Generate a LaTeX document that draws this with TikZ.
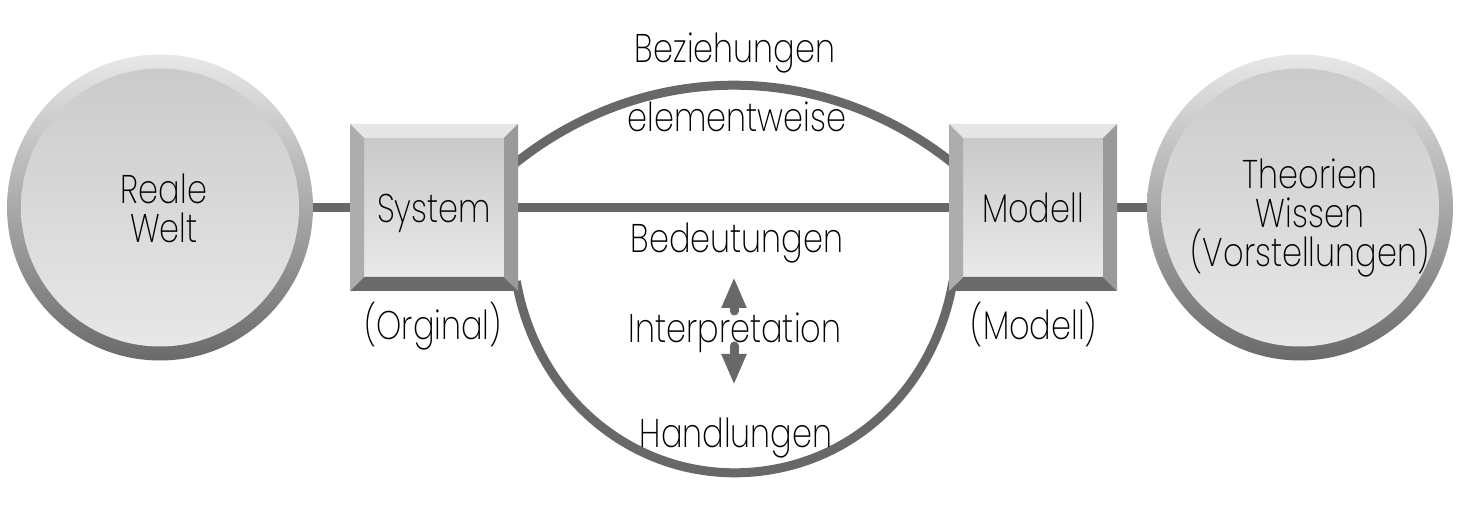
\documentclass[tikz,border=0pt]{standalone}
\usepackage{fontspec}
\setmainfont{Poppins}[UprightFont={* ExtraLight},FakeStretch=0.8]
\usetikzlibrary{arrows.meta}
\pgfdeclarelayer{bg}
\pgfdeclarelayer{boxes}
\pgfsetlayers{bg,boxes,main}
\definecolor{linegray}{HTML}{686868}
\definecolor{ringtop}{HTML}{E8E8E8}
\definecolor{ringbot}{HTML}{6A6A6A}
\definecolor{facetop}{HTML}{C9C9C9}
\definecolor{facebot}{HTML}{E9E9E9}
\definecolor{bevtop}{HTML}{E6E6E6}
\definecolor{bevleft}{HTML}{ADADAD}
\definecolor{bevright}{HTML}{9A9A9A}
\definecolor{bevbot}{HTML}{6A6A6A}
\newcommand{\drawbevel}[1]{%
  \begin{pgfonlayer}{boxes}
  \begin{scope}[shift={(#1.south west)}]
    \shade[top color=facetop,bottom color=facebot] (14,14) rectangle (154,153);
    \fill[bevtop] (0,167)--(168,167)--(154,153)--(14,153)--cycle;
    \fill[bevbot] (0,0)--(168,0)--(154,14)--(14,14)--cycle;
    \fill[bevleft] (0,0)--(14,14)--(14,153)--(0,167)--cycle;
    \fill[bevright] (168,0)--(154,14)--(154,153)--(168,167)--cycle;
  \end{scope}
  \end{pgfonlayer}}
\begin{document}
\begin{tikzpicture}[x=1pt,y=1pt,
  conn/.style={draw=linegray,line width=9pt},
  txt/.style={font=\fontsize{40}{39}\selectfont,inner sep=0pt,align=center},
  world/.style={circle,minimum size=306pt,inner sep=0pt,top color=ringtop,bottom color=ringbot,
    path picture={\shade[top color=facetop,bottom color=facebot] (path picture bounding box.center) circle[radius=139pt];}},
  bevelbox/.style={rectangle,minimum width=168pt,minimum height=167pt,inner sep=0pt,outer sep=0pt,
    font=\fontsize{40}{39}\selectfont,text height=30pt,text depth=0pt},
  arr/.style={draw=linegray,line width=9pt,line cap=round,-{Triangle[width=23pt,length=31pt]}}
]
\useasboundingbox (0,0) rectangle (1476,530);
% main shapes
\node[world] (rw) at (160,322.5) {};
\node[bevelbox] (sys) at (434,322.5) {System};
\drawbevel{sys}
\node[bevelbox] (mod) at (1033,322.5) {Modell};
\drawbevel{mod}
\node[world] (tw) at (1300,322.5) {};
% texts
\node[txt] (rwt) at (164,322) {Reale\\Welt};
\node[txt] (twt) at (1310,312) {Theorien\\Wissen\\(Vorstellungen)};
\node[txt,anchor=base] (orig) at (433,190) {(Orginal)};
\node[txt,anchor=base] (modl) at (1034,190) {(Modell)};
\node[txt,anchor=base] (bez) at (735,467) {Beziehungen};
\node[txt,anchor=base] (elem) at (737,398) {elementweise};
\node[txt,anchor=base] (bed) at (737,277) {Bedeutungen};
\node[txt,anchor=base] (int) at (735,187) {Interpretation};
\node[txt,anchor=base] (hand) at (736,82) {Handlungen};
% connectors behind the shapes
\begin{pgfonlayer}{bg}
  \fill[white] (0,0) rectangle (1476,530);
  \draw[conn,shorten <=-4pt,shorten >=-4pt] (rw) -- (sys);
  \draw[conn,shorten <=-4pt,shorten >=-4pt] (sys) -- (mod);
  \draw[conn,shorten <=-4pt,shorten >=-4pt] (mod) -- (tw);
  \draw[conn,shorten <=-8pt,shorten >=-8pt] (sys.29.5) arc[start angle=129.24,end angle=50.76,radius=341.5];
  \draw[conn,shorten <=-10pt,shorten >=-10pt] (sys.south east) arc[start angle=190,end angle=350,radius=220];
\end{pgfonlayer}
% interpretation arrows
\coordinate (a1) at (734,219);
\coordinate (a1t) at (734,253);
\coordinate (a2) at (734,184);
\coordinate (a2t) at (734,145);
\draw[arr] (a1) -- (a1t);
\draw[arr] (a2) -- (a2t);
\end{tikzpicture}
\end{document}
